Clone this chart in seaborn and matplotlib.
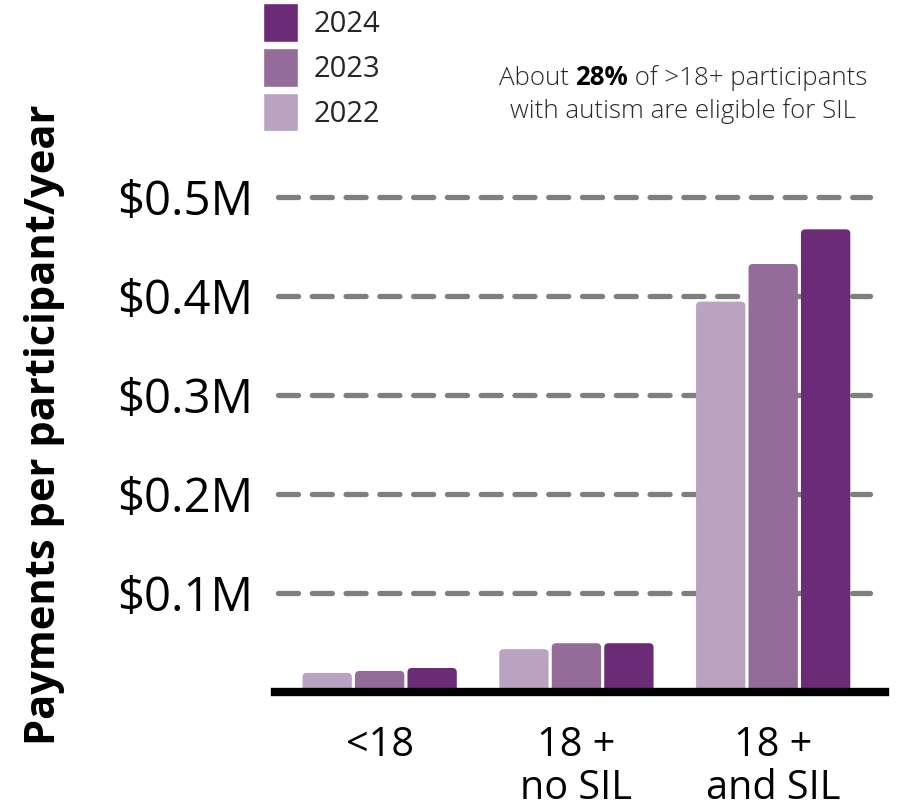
import pandas as pd
import matplotlib
matplotlib.use("Agg")
import matplotlib.pyplot as plt
from matplotlib.patches import Patch, FancyBboxPatch
import seaborn as sns

# dados (milhões de dólares por participante/ano)
grupos = ["<18", "18 +\nno SIL", "18 +\nand SIL"]
anos = ["2022", "2023", "2024"]
valores_2022 = [0.019, 0.043, 0.394]
valores_2023 = [0.021, 0.049, 0.432]
valores_2024 = [0.024, 0.049, 0.467]
ticks_y = [0.1, 0.2, 0.3, 0.4, 0.5]
ticks_y_labels = ["$0.1M", "$0.2M", "$0.3M", "$0.4M", "$0.5M"]
cores = {"2022": "#baa2c2", "2023": "#956b9a", "2024": "#6c2b76"}

df = pd.DataFrame({
    "grupo": grupos * 3,
    "ano": ["2022"] * 3 + ["2023"] * 3 + ["2024"] * 3,
    "valor": valores_2022 + valores_2023 + valores_2024,
})

sns.set_style("white")
plt.rcParams["font.family"] = ["Open Sans", "DejaVu Sans"]

fig = plt.figure(figsize=(8.97, 8.1), dpi=100)
ax = fig.add_axes([0.307, 0.146, 0.68, 0.632])

sns.barplot(data=df, x="grupo", y="valor", hue="ano", hue_order=anos,
            palette=cores, width=0.8, gap=0.06, ax=ax, legend=False,
            saturation=1)

ax.set_xlim(-0.53, 2.57)
ax.set_ylim(0, 0.517)

# cantos arredondados nas barras
for p in list(ax.patches):
    x0, y0 = p.get_x(), p.get_y()
    w, h = p.get_width(), p.get_height()
    fb = FancyBboxPatch((x0, y0), w, h,
                        boxstyle="round,pad=0,rounding_size=0.022",
                        mutation_aspect=0.2, facecolor=p.get_facecolor(),
                        edgecolor="none", zorder=p.get_zorder())
    p.remove()
    ax.add_patch(fb)

# linhas de grade tracejadas
for t in ticks_y:
    ax.axhline(t, xmin=0.005, xmax=0.975, color="#7f7f7f", lw=3.8,
               dashes=(3.8, 2.6), dash_capstyle="round", zorder=0)

ax.set_yticks(ticks_y)
ax.set_yticklabels(ticks_y_labels, fontsize=34, color="black")
ax.tick_params(axis="y", length=0, pad=16)
ax.tick_params(axis="x", length=0, pad=24, labelsize=28.5, labelcolor="black")
for lab in ax.get_xticklabels():
    lab.set_linespacing(1.1)
    lab.set_va("top")

sns.despine(ax=ax, left=True)
ax.spines["bottom"].set_linewidth(6)
ax.spines["bottom"].set_color("black")

ax.set_xlabel("")
ax.set_ylabel("")
fig.text(0.05, 0.476, "Payments per participant/year", rotation=90,
         fontsize=30, fontweight="bold", ha="center", va="center",
         color="black")

# legenda (ordem invertida)
handles = [Patch(facecolor=cores[a], label=a) for a in reversed(anos)]
fig.legend(handles=handles, loc="upper left", bbox_to_anchor=(0.293, 0.996),
           frameon=False, fontsize=21, handlelength=1.2, handleheight=1.65,
           handletextpad=0.55, labelspacing=0.22, borderpad=0,
           borderaxespad=0)

# anotação com "28%" em negrito
cor_txt = "#2a2a2a"
y1 = 1 - 85 / 810
t1 = fig.text(0, y1, "About ", fontsize=18.6, color=cor_txt,
              fontweight="light", va="baseline", ha="left")
t2 = fig.text(0, y1, "28%", fontsize=18.6, color="black", fontweight="bold",
              va="baseline")
t3 = fig.text(0, y1, " of >18+ participants", fontsize=18.6, color=cor_txt,
              fontweight="light", va="baseline")
fig.canvas.draw()
r = fig.canvas.get_renderer()
w1 = t1.get_window_extent(r).width
w2 = t2.get_window_extent(r).width
w3 = t3.get_window_extent(r).width
x = 683 - (w1 + w2 + w3) / 2
t1.set_position((x / 897, y1))
t2.set_position(((x + w1) / 897, y1))
t3.set_position(((x + w1 + w2) / 897, y1))
fig.text(683 / 897, 1 - 118 / 810, "with autism are eligible for SIL",
         fontsize=18.6, color=cor_txt, fontweight="light", ha="center",
         va="baseline")

fig.savefig("out.png", dpi=100)
